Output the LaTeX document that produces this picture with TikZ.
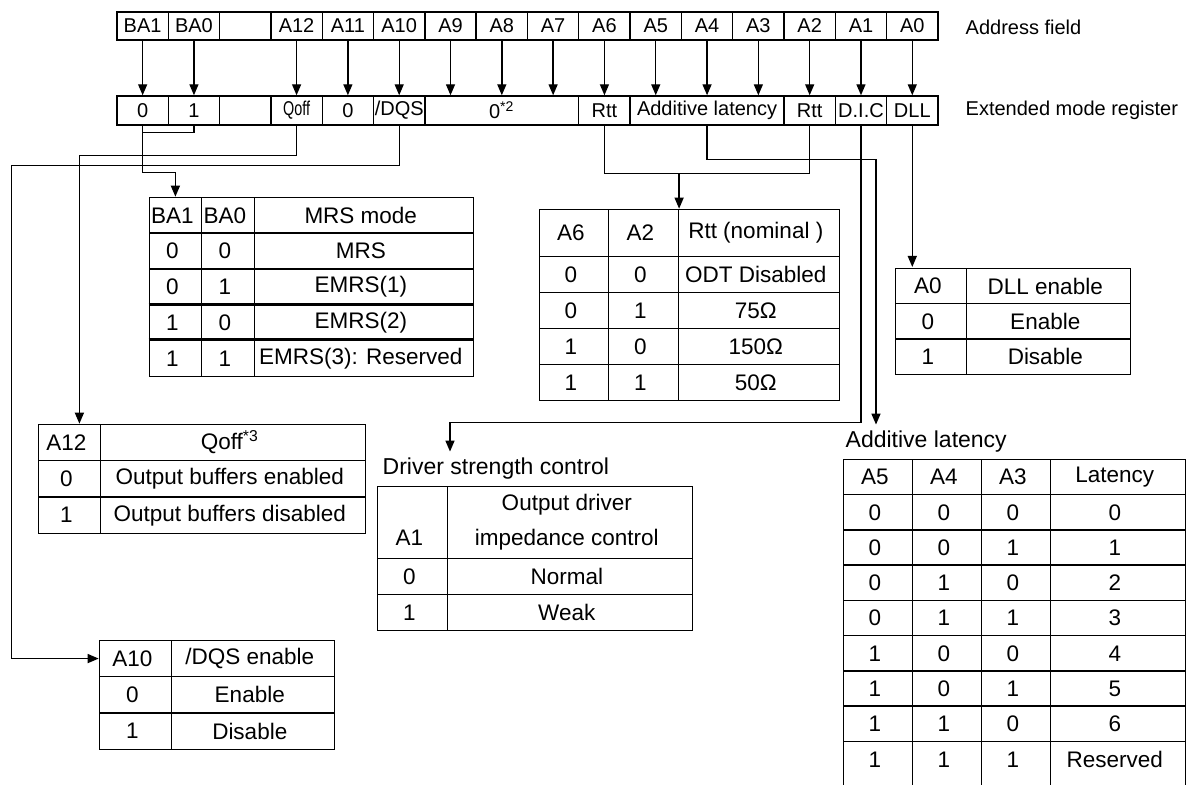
\documentclass[tikz,border=0pt]{standalone}
\usepackage{fontspec}
\setmainfont{Liberation Sans}
\usetikzlibrary{matrix,arrows.meta}
\newcommand{\twoline}[2]{\begin{tabular}{@{}c@{}}#1\\[4.5pt]#2\end{tabular}}

\begin{document}
\begin{tikzpicture}[
    x=0.5pt, y=-0.5pt,
    line width=0.7pt,
    field/.style={rectangle, draw, minimum width=25.66pt, minimum height=14pt, inner sep=0pt, font=\fontsize{10}{12}\selectfont},
    reg/.style={rectangle, draw, minimum width=25.66pt, minimum height=14.5pt, inner sep=0pt, font=\fontsize{10}{12}\selectfont},
    tbl/.style={matrix of nodes, inner sep=0pt, anchor=north west, column sep=-0.7pt, row sep=-0.7pt,
        nodes={rectangle, draw, anchor=center, align=center, inner sep=0pt, font=\fontsize{11.25}{13}\selectfont}},
    lbl/.style={anchor=west, inner sep=0pt, font=\fontsize{10}{12}\selectfont},
    arrow/.style={->, >={Triangle[length=5.5pt, width=4.5pt]}}
]
\useasboundingbox (0,0) rectangle (1191,785);

% Address field
\foreach \lab [count=\i from 0] in {BA1,BA0,,A12,A11,A10,A9,A8,A7,A6,A5,A4,A3,A2,A1,A0}
    \node[field] (a\i) at ({142.65+51.31*\i},26) {\lab};
\node[lbl] (addrlbl) at (965,27) {Address field};

% Extended mode register
\node[reg] (r0) at (142.65,110.5) {0};
\node[reg] (r1) at (193.96,110.5) {1};
\node[reg] (r2) at (245.27,110.5) {};
\node[reg] (r3) at (296.58,110.5) {\scalebox{0.72}[1]{Qoff}};
\node[reg] (r4) at (347.89,110.5) {0};
\node[reg] (r5) at (399.2,110.5) {/DQS};
\node[reg, minimum width=76.95pt] (r6) at (501.8,110.5) {0\textsuperscript{*2}};
\node[reg] (r7) at (604.44,110.5) {Rtt};
\node[reg, minimum width=76.95pt] (r8) at (707.06,110.5) {Additive latency};
\node[reg] (r9) at (809.68,110.5) {Rtt};
\node[reg] (r10) at (860.99,110.5) {D.I.C};
\node[reg] (r11) at (912.3,110.5) {DLL};
\node[lbl] (emrlbl) at (965,110.5) {Extended mode register};

\foreach \i in {0,1,3,4,...,15}
    \draw[arrow] (a\i.south) -- (a\i.south |- r0.north);

% MRS mode table
\matrix[tbl, nodes={minimum height=17.9pt},
    column 1/.style={nodes={minimum width=26pt}},
    column 2/.style={nodes={minimum width=26.5pt}},
    column 3/.style={nodes={minimum width=109.5pt}}] (mrs) at (148,196) {
    BA1 & BA0 & MRS mode \\
    0 & 0 & MRS \\
    0 & 1 & EMRS(1) \\
    1 & 0 & EMRS(2) \\
    1 & 1 & EMRS(3): Reserved \\
};
\draw[line width=1.5pt] (mrs-4-1.north west) -- (mrs-4-3.north east);
\draw[line width=1.5pt] (mrs-5-1.north west) -- (mrs-5-3.north east);

% Rtt table
\matrix[tbl, nodes={minimum height=18pt},
    row 1/.style={nodes={minimum height=23.5pt}},
    column 1/.style={nodes={minimum width=34.5pt}},
    column 2/.style={nodes={minimum width=35pt}},
    column 3/.style={nodes={minimum width=80.5pt}}] (rtt) at (538,208) {
    A6 & A2 & Rtt (nominal ) \\
    0 & 0 & ODT Disabled \\
    0 & 1 & 75Ω \\
    1 & 0 & 150Ω \\
    1 & 1 & 50Ω \\
};

% DLL table
\matrix[tbl, nodes={minimum height=17.67pt},
    column 1/.style={nodes={minimum width=35.5pt}},
    column 2/.style={nodes={minimum width=82pt}}] (dll) at (894,267) {
    A0 & DLL enable \\
    0 & Enable \\
    1 & Disable \\
};

% Qoff table
\matrix[tbl, nodes={minimum height=18.17pt},
    column 1/.style={nodes={minimum width=31pt}},
    column 2/.style={nodes={minimum width=132.5pt}}] (qoff) at (37,423) {
    A12 & Qoff\textsuperscript{*3} \\
    0 & Output buffers enabled \\
    1 & Output buffers disabled \\
};

% /DQS table
\matrix[tbl, nodes={minimum height=18.17pt},
    column 1/.style={nodes={minimum width=36pt}},
    column 2/.style={nodes={minimum width=81.5pt}}] (dqs) at (98,639) {
    A10 & /DQS enable \\
    0 & Enable \\
    1 & Disable \\
};

% Driver strength table
\node[lbl, font=\fontsize{11.5}{13}\selectfont] (drvlbl) at (382,469) {Driver strength control};
\matrix[tbl, nodes={minimum height=18pt},
    row 1/.style={nodes={minimum height=36pt}},
    column 1/.style={nodes={minimum width=35pt}},
    column 2/.style={nodes={minimum width=122.5pt}}] (drv) at (376,485) {
    \twoline{\strut}{A1} & \twoline{Output driver}{impedance control} \\
    0 & Normal \\
    1 & Weak \\
};

% Additive latency table
\node[lbl, font=\fontsize{11.5}{13}\selectfont] (latlbl) at (845,442) {Additive latency};
\matrix[tbl, nodes={minimum height=17.625pt},
    row 9/.style={nodes={text height=13pt, text depth=10pt}},
    column 1/.style={nodes={minimum width=34.5pt}},
    column 2/.style={nodes={minimum width=34.5pt}},
    column 3/.style={nodes={minimum width=34.5pt}},
    column 4/.style={nodes={minimum width=67.5pt}}] (lat) at (842,458) {
    A5 & A4 & A3 & Latency \\
    0 & 0 & 0 & 0 \\
    0 & 0 & 1 & 1 \\
    0 & 1 & 0 & 2 \\
    0 & 1 & 1 & 3 \\
    1 & 0 & 0 & 4 \\
    1 & 0 & 1 & 5 \\
    1 & 1 & 0 & 6 \\
    1 & 1 & 1 & Reserved \\
};

% Connectors
\draw (r1.south) -- ++(0,7) -| (r0.south);
\draw[arrow] (r0.south) -- ++(0,47) -| (mrs-1-1.north);
\draw[arrow] (r3.south) -- ++(0,30) -| ([xshift=5pt]qoff-1-1.north);
\draw[arrow] (r5.south) -- ++(0,40) -- ++(-388,0) |- (dqs-1-1.west);

\draw (r7.south) -- ++(0,48) coordinate (rttbar) -| (r9.south);
\draw[arrow] (rttbar -| rtt-1-2.north east) -- (rtt-1-2.north east);
\draw[arrow] (r8.south) -- ++(0,34) -| ([xshift=15.5pt, yshift=3pt]latlbl.north west);
\draw[arrow] (r10.south) -- ++(0,297) -| ([xshift=34pt, yshift=3pt]drvlbl.north west);
\draw[arrow] (r11.south) -- (r11.south |- dll.north);

\end{tikzpicture}
\end{document}
